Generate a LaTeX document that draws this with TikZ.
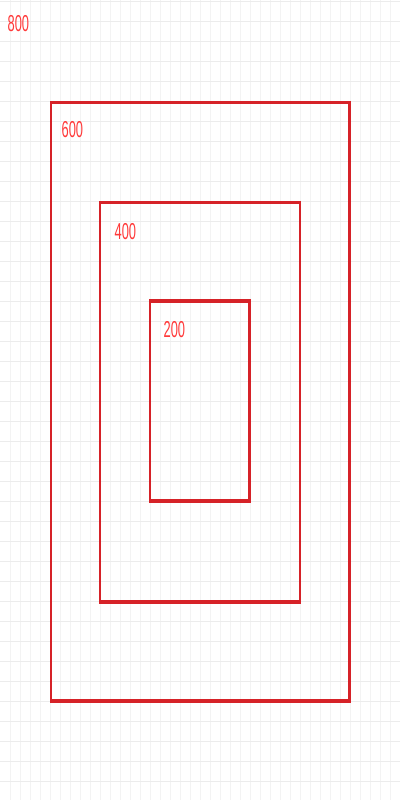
\documentclass[tikz,border=0pt]{standalone}
\usepackage{fontspec}
\setmainfont{Liberation Sans}
\definecolor{rectred}{RGB}{214,34,40}
\definecolor{textred}{RGB}{255,58,58}
\definecolor{gridh}{RGB}{236,236,236}
\definecolor{gridv}{RGB}{243,243,243}
\begin{document}
\begin{tikzpicture}[x=1pt,y=-1pt,
  hedge/.style={rectred,line width=3.7pt},
  vedge/.style={rectred,line width=2.2pt},
  lbl/.style={textred,inner sep=0pt,anchor=base west,xscale=0.56,font=\fontsize{23}{23}\selectfont}]
\useasboundingbox (0,0) rectangle (400,800);
\fill[white] (0,0) rectangle (400,800);
% grid
\foreach \x in {10,20,...,390} \draw[gridv,line width=1pt] (\x+0.5,0) -- (\x+0.5,800);
\foreach \y in {0,20,...,780} \draw[gridh,line width=1.2pt] (0,\y+1.5) -- (400,\y+1.5);
% rectangles: left, right, top, bottom
\newcommand{\redbox}[4]{%
  \draw[vedge] (#1,#3) -- (#1,#4);
  \draw[vedge] (#2,#3) -- (#2,#4);
  \draw[hedge] (#1-1.1,#3) -- (#2+1.1,#3);
  \draw[hedge] (#1-1.1,#4) -- (#2+1.1,#4);}
\redbox{51.3}{349.5}{102.5}{701}
\redbox{100.3}{300.2}{202.5}{602.3}
\redbox{150.2}{249.5}{301}{501}
% labels
\node[lbl] (l800) at (7.5,31.5) {800};
\node[lbl] (l600) at (61.5,137) {600};
\node[lbl] (l400) at (114.5,239) {400};
\node[lbl] (l200) at (163.5,337) {200};
\end{tikzpicture}
\end{document}
